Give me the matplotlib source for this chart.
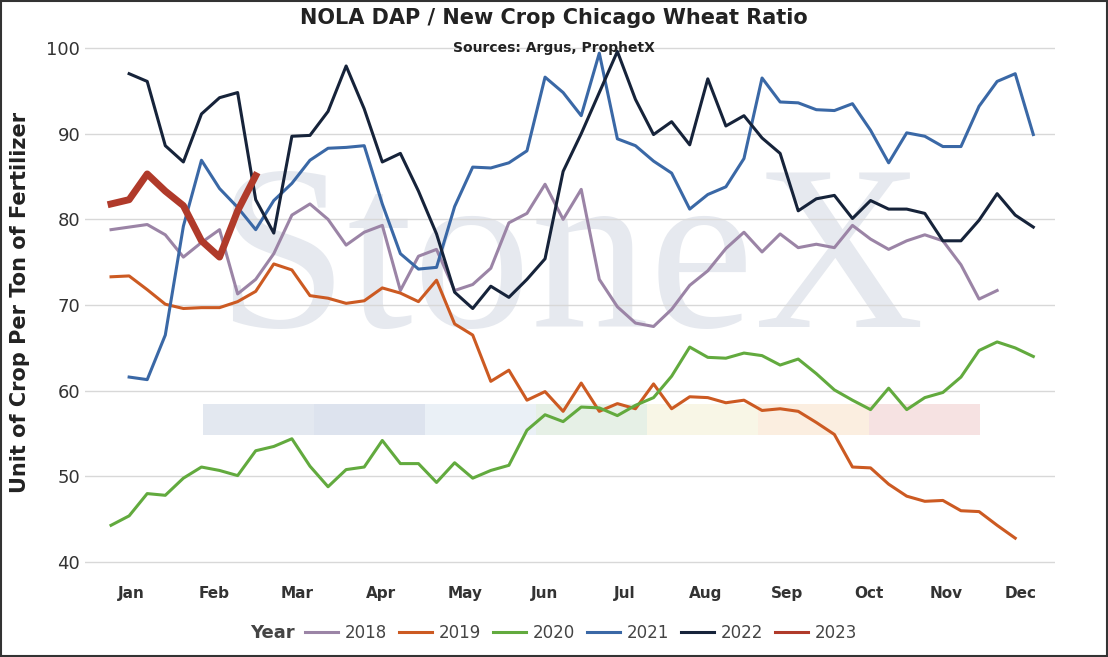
import matplotlib
matplotlib.use("Agg")
import matplotlib.pyplot as plt
import numpy as np

months = ["Jan","Feb","Mar","Apr","May","Jun","Jul","Aug","Sep","Oct","Nov","Dec"]
month_pos = [1.1,5.7,10.3,14.9,19.6,24.0,28.4,32.9,37.4,41.9,46.2,50.3]

s2018 = [78.8,79.1,79.4,78.2,75.6,77.3,78.8,71.3,73.0,76.0,80.5,81.8,80.0,77.0,78.5,79.3,71.7,75.7,76.5,71.7,72.4,74.3,79.6,80.7,84.1,80.0,83.5,73.0,69.8,67.9,67.5,69.5,72.3,74.0,76.6,78.5,76.2,78.3,76.7,77.1,76.7,79.3,77.7,76.5,77.5,78.2,77.5,74.7,70.7,71.7]
s2019 = [73.3,73.4,71.8,70.1,69.6,69.7,69.7,70.4,71.6,74.8,74.1,71.1,70.8,70.2,70.5,72.0,71.4,70.4,72.9,67.8,66.5,61.1,62.4,58.9,59.9,57.6,60.9,57.6,58.5,57.9,60.8,57.9,59.3,59.2,58.6,58.9,57.7,57.9,57.6,56.3,54.9,51.1,51.0,49.1,47.7,47.1,47.2,46.0,45.9,44.3,42.8]
s2020 = [44.3,45.4,48.0,47.8,49.8,51.1,50.7,50.1,53.0,53.5,54.4,51.2,48.8,50.8,51.1,54.2,51.5,51.5,49.3,51.6,49.8,50.7,51.3,55.4,57.2,56.4,58.1,58.0,57.1,58.3,59.2,61.7,65.1,63.9,63.8,64.4,64.1,63.0,63.7,62.0,60.1,58.9,57.8,60.3,57.8,59.2,59.8,61.6,64.7,65.7,65.0,64.0]
s2021 = [61.6,61.3,66.5,79.2,86.9,83.6,81.4,78.8,82.2,84.2,86.9,88.3,88.4,88.6,81.8,76.0,74.2,74.4,81.5,86.1,86.0,86.6,88.0,96.6,94.8,92.1,99.4,89.4,88.6,86.8,85.4,81.2,82.9,83.8,87.1,96.5,93.7,93.6,92.8,92.7,93.5,90.4,86.6,90.1,89.7,88.5,88.5,93.2,96.1,97.0,89.9]
s2022 = [97.0,96.1,88.6,86.7,92.3,94.2,94.8,82.3,78.4,89.7,89.8,92.6,97.9,92.9,86.7,87.7,83.3,78.3,71.5,69.6,72.2,70.9,73.0,75.4,85.6,90.0,94.8,99.6,94.0,89.9,91.4,88.7,96.4,90.9,92.1,89.5,87.7,81.0,82.4,82.8,80.1,82.2,81.2,81.2,80.7,77.5,77.5,79.9,83.0,80.5,79.1]
s2023 = [81.8,82.3,85.3,83.3,81.6,77.5,75.6,81.0,85.1]

fig = plt.figure(figsize=(11.08,6.57), dpi=100)
ax = fig.add_axes([85/1108, 1-575/657, 970/1108, 545/657])
ax.set_xlim(-1.44, 52.2)
ax.set_ylim(38.5, 102.1)

ax.text(0.5, 0.56, "StoneX", transform=ax.transAxes, fontsize=170, family="Liberation Serif",
        color="#e6e9ef", ha="center", va="center", zorder=0)
band_cols = ["#e3e8f0","#dde3ee","#eaf0f6","#e6f0e6","#f8f6e6","#fbeee0","#f6e2e2"]
for k, c in enumerate(band_cols):
    ax.axhspan(54.8, 58.4, xmin=(203-85+k*111)/970, xmax=(203-85+(k+1)*111)/970, color=c, zorder=0.5, lw=0)

x18 = np.arange(len(s2018)); x19 = np.arange(len(s2019)); x20 = np.arange(len(s2020))
x21 = np.arange(len(s2021))+1; x22 = np.arange(len(s2022))+1; x23 = np.arange(len(s2023))
ax.plot(x18, s2018, color="#9b84a6", lw=2.2, label="2018")
ax.plot(x19, s2019, color="#cc5a22", lw=2.2, label="2019")
ax.plot(x20, s2020, color="#62aa3e", lw=2.2, label="2020")
ax.plot(x21, s2021, color="#3a68a6", lw=2.2, label="2021")
ax.plot(x22, s2022, color="#16233a", lw=2.2, label="2022")
ax.plot(x23, s2023, color="#b03a2a", lw=5, label="2023")

ax.set_yticks([40,50,60,70,80,90,100])
ax.grid(axis="y", color="#d8d8d8", lw=1)
ax.set_axisbelow(True)
ax.set_xticks(month_pos)
ax.set_xticklabels(months, fontweight="bold", color="#333333", fontsize=11)
ax.tick_params(axis="y", labelsize=13, colors="#333333", length=0)
ax.tick_params(axis="x", length=0, pad=8)
for s in ax.spines.values():
    s.set_visible(False)
ax.set_ylabel("Unit of Crop Per Ton of Fertilizer", fontsize=15, fontweight="bold", color="#222222", labelpad=12)

fig.text(0.5, 1-18/657, "NOLA DAP / New Crop Chicago Wheat Ratio", ha="center", va="center", fontsize=15, fontweight="bold", color="#222222")
fig.text(0.5, 1-48/657, "Sources: Argus, ProphetX", ha="center", va="center", fontsize=10, fontweight="bold", color="#222222")

h, l = ax.get_legend_handles_labels()
fig.text(250/1108, 1-633/657, "Year", ha="left", va="center", fontsize=13, fontweight="bold", color="#444444")
leg = fig.legend(h, l, loc="center left", bbox_to_anchor=(290/1108, 1-633/657), ncol=6, frameon=False,
                 fontsize=12, handlelength=2.0, columnspacing=0.7, handletextpad=0.4, labelcolor="#444444")
for lh in leg.legend_handles:
    lh.set_linewidth(2.2)

fig.patches.append(plt.Rectangle((0.001,0.001),0.998,0.998, transform=fig.transFigure, fill=False, ec="#333333", lw=1.5))
fig.savefig("out.png", dpi=100)
